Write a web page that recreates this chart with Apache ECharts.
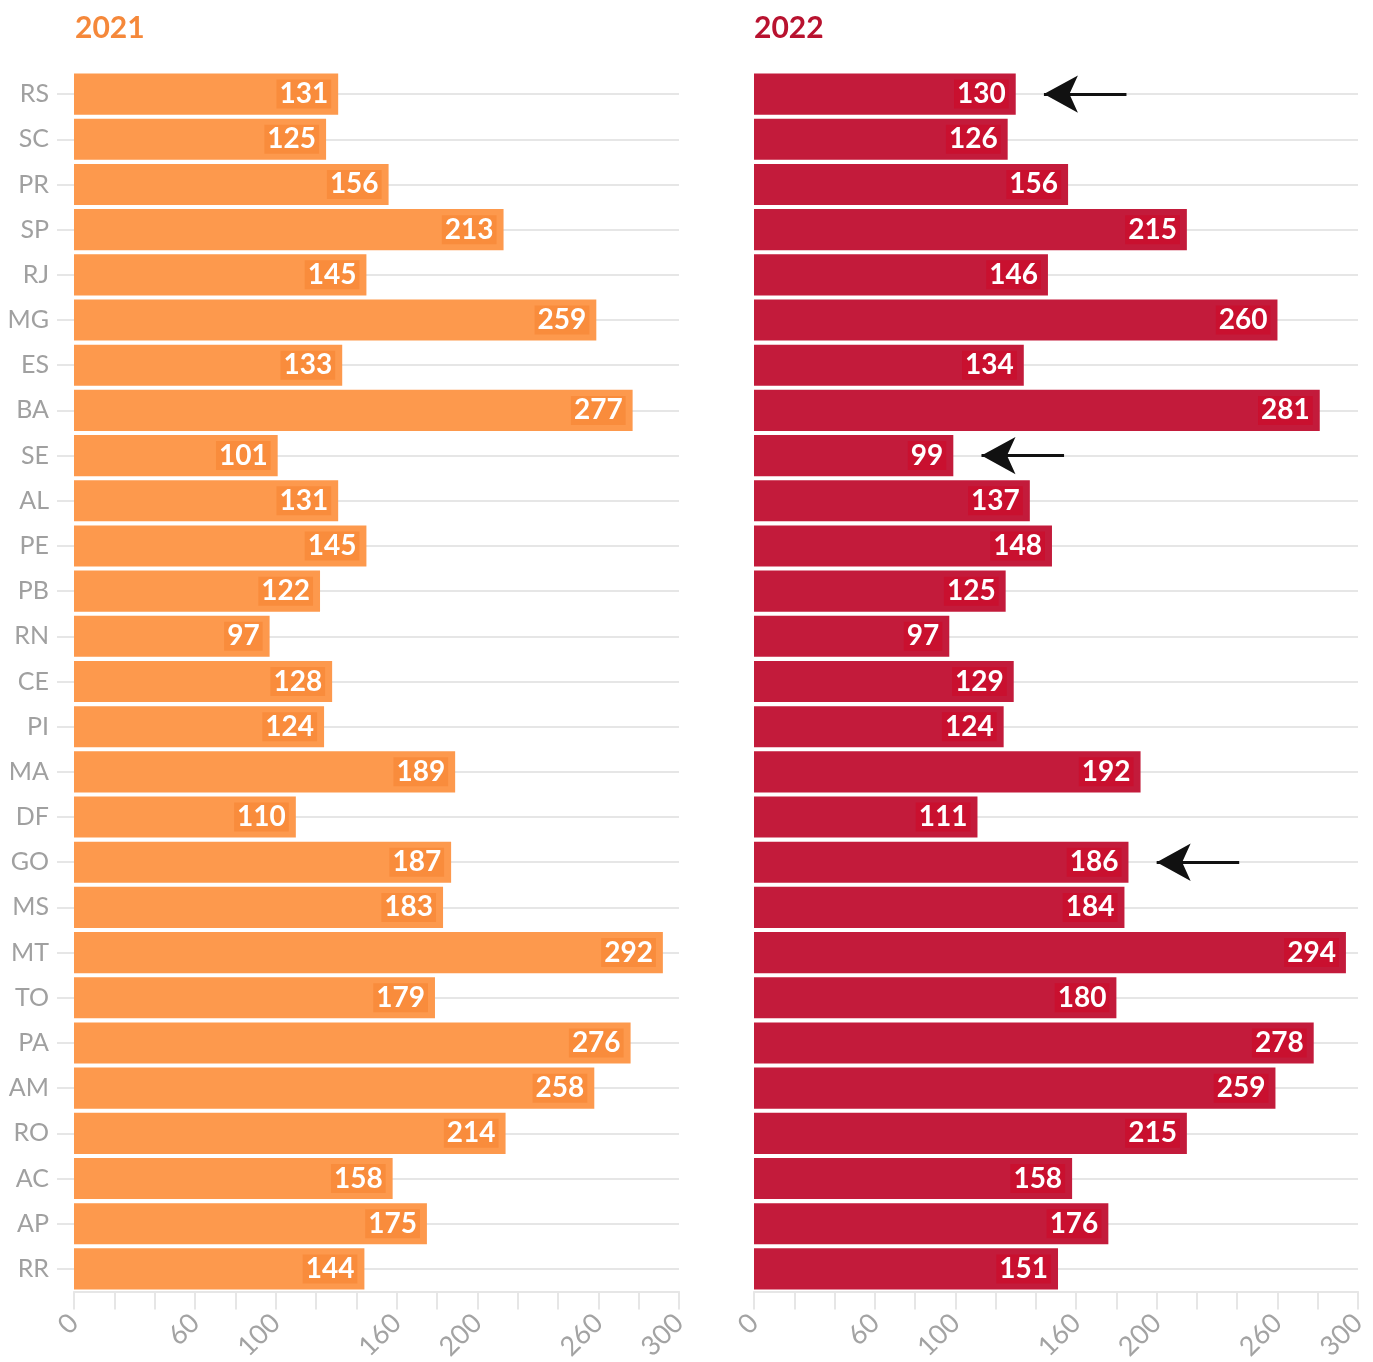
<!DOCTYPE html>
<html>
<head>
<meta charset="utf-8">
<script src="https://cdn.jsdelivr.net/npm/echarts@6/dist/echarts.min.js"></script>
<style>
  html, body { margin: 0; padding: 0; background: #fff; }
  #main { width: 1373px; height: 1362px; }
</style>
</head>
<body>
<div id="main"></div>
<script>
// estados, de cima para baixo
var states = ['RS', 'SC', 'PR', 'SP', 'RJ', 'MG', 'ES', 'BA', 'SE', 'AL', 'PE', 'PB', 'RN', 'CE',
  'PI', 'MA', 'DF', 'GO', 'MS', 'MT', 'TO', 'PA', 'AM', 'RO', 'AC', 'AP', 'RR'];
var values2021 = [131, 125, 156, 213, 145, 259, 133, 277, 101, 131, 145, 122, 97, 128,
  124, 189, 110, 187, 183, 292, 179, 276, 258, 214, 158, 175, 144];
var values2022 = [130, 126, 156, 215, 146, 260, 134, 281, 99, 137, 148, 125, 97, 129,
  124, 192, 111, 186, 184, 294, 180, 278, 259, 215, 158, 176, 151];
var xTickLabels = [0, 60, 100, 160, 200, 260, 300];
var arrowStates = ['RS', 'SE', 'GO'];

var fontFamily = 'Lato, "Noto Sans", sans-serif';

function xAxis(gridIndex) {
  return {
    type: 'value',
    gridIndex: gridIndex,
    min: 0,
    max: 300,
    interval: 20,
    axisLine: { show: true, lineStyle: { color: '#e6e6e6', width: 2 } },
    axisTick: { show: true, length: 18, lineStyle: { color: '#e6e6e6', width: 2 } },
    splitLine: { show: false },
    axisLabel: {
      rotate: 45,
      margin: 27,
      color: '#a3a3a3',
      fontSize: 27,
      fontFamily: fontFamily,
      showMaxLabel: true,
      formatter: function (v) {
        return xTickLabels.indexOf(v) >= 0 ? String(v) : '';
      }
    }
  };
}

function yAxis(gridIndex, showLabels) {
  return {
    type: 'category',
    gridIndex: gridIndex,
    data: states,
    inverse: true,
    axisLine: { show: false },
    axisTick: {
      show: showLabels,
      alignWithLabel: true,
      length: 17,
      lineStyle: { color: '#e6e6e6', width: 2 }
    },
    splitLine: {
      show: true,
      alignWithLabel: true,
      lineStyle: { color: '#e6e6e6', width: 2 }
    },
    axisLabel: {
      show: showLabels,
      margin: 25,
      color: '#a0a0a0',
      fontSize: 25,
      fontFamily: fontFamily
    }
  };
}

function barSeries(idx, values, color, labelBg, withArrows) {
  var s = {
    type: 'bar',
    xAxisIndex: idx,
    yAxisIndex: idx,
    data: values,
    barCategoryGap: '9%',
    itemStyle: { color: color },
    label: {
      show: true,
      position: 'insideRight',
      distance: 7,
      color: '#fff',
      fontSize: 28,
      fontWeight: 'bold',
      fontFamily: fontFamily,
      backgroundColor: labelBg,
      padding: [1, 3, 0, 3]
    }
  };
  if (withArrows) {
    var lines = [];
    for (var i = 0; i < arrowStates.length; i++) {
      var v = values[states.indexOf(arrowStates[i])];
      lines.push([
        { coord: [v + 14, arrowStates[i]] },
        { coord: [v + 55, arrowStates[i]] }
      ]);
    }
    s.markLine = {
      silent: true,
      symbol: ['arrow', 'none'],
      symbolSize: [28, 34],
      label: { show: false },
      lineStyle: { color: '#111', width: 3, type: 'solid' },
      itemStyle: { color: '#111' },
      emphasis: { disabled: true },
      data: lines
    };
  }
  return s;
}

var chart = echarts.init(document.getElementById('main'));
var option = {
  animation: false,
  title: [
    { text: '2021', left: 70, top: 8, textStyle: { color: '#f5883a', fontSize: 30, fontWeight: 'bold', fontFamily: fontFamily } },
    { text: '2022', left: 749, top: 8, textStyle: { color: '#b8122f', fontSize: 30, fontWeight: 'bold', fontFamily: fontFamily } }
  ],
  grid: [
    { left: 74, width: 605, top: 71.5, height: 1220, outerBoundsMode: 'none' },
    { left: 754, width: 604, top: 71.5, height: 1220, outerBoundsMode: 'none' }
  ],
  xAxis: [xAxis(0), xAxis(1)],
  yAxis: [yAxis(0, true), yAxis(1, false)],
  series: [
    barSeries(0, values2021, '#fd994d', '#f98c3c', false),
    barSeries(1, values2022, '#c31b3b', '#c9102f', true)
  ]
};
chart.setOption(option);
</script>
</body>
</html>
